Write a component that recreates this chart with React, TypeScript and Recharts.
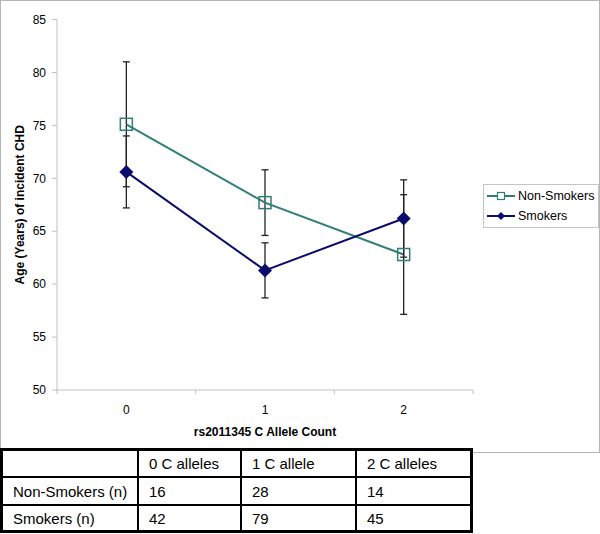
import { LineChart, Line, XAxis, YAxis, ErrorBar, Legend, Label } from 'recharts';

// allele count groups on the x axis
const alleleCounts = ['0', '1', '2'];
// mean age of incident CHD and error (years)
const nonSmokers = [75.1, 67.7, 62.8];
const nonSmokersErr = [5.9, 3.1, 5.65];
const smokers = [70.6, 61.3, 66.2];
const smokersErr = [3.4, 2.6, 3.65];
const yTicks = [50, 55, 60, 65, 70, 75, 80, 85];
const xTicks = [-0.5, 0, 0.5, 1, 1.5, 2, 2.5];

// sample sizes shown in the table below the chart
const tableHeader = ['', '0 C alleles', '1 C allele', '2 C alleles'];
const nonSmokersN = [16, 28, 14];
const smokersN = [42, 79, 45];

const FONT = '"Liberation Sans", Arial, sans-serif';
const TEAL = '#317d77';
const NAVY = '#0c0c6c';
const AXIS = '#c0c0c0';

const data = alleleCounts.map((_, i) => ({
  x: i,
  nonSmokers: nonSmokers[i],
  nonErr: nonSmokersErr[i],
  smokers: smokers[i],
  smkErr: smokersErr[i],
}));

const SquareDot = (p: any) => (
  <rect key={`sq-${p.index}`} x={p.cx - 6} y={p.cy - 6} width={12} height={12} fill="none" stroke={TEAL} strokeWidth={1.5} />
);

const DiamondDot = (p: any) => (
  <polygon
    key={`dm-${p.index}`}
    points={`${p.cx},${p.cy - 7} ${p.cx + 7},${p.cy} ${p.cx},${p.cy + 7} ${p.cx - 7},${p.cy}`}
    fill={NAVY}
  />
);

const AlleleTick = (props: any) => {
  const { x, y, payload } = props;
  const v = payload.value;
  if (Number.isInteger(v)) {
    return (
      <text x={x} y={y + 23.5} textAnchor="middle" fontSize={12} fontFamily={FONT} fill="#000">
        {alleleCounts[v]}
      </text>
    );
  }
  return <line x1={x} y1={y} x2={x} y2={y + 4} stroke={AXIS} />;
};

const renderLegend = (props: any) => {
  const { payload } = props;
  return (
    <div style={{ border: '1px solid #c4c4c4', background: '#fff', padding: '1px 4px 1px 3px', fontFamily: FONT, fontSize: 12.5 }}>
      {payload.map((entry: any) => (
        <div key={entry.value} style={{ display: 'flex', alignItems: 'center', height: 20 }}>
          <svg width={31} height={14} style={{ display: 'block' }}>
            <line x1={0} y1={7} x2={28} y2={7} stroke={entry.color} strokeWidth={2} />
            {entry.dataKey === 'nonSmokers' ? (
              <rect x={10.5} y={3.5} width={7} height={7} fill="#fff" stroke={TEAL} strokeWidth={1.2} />
            ) : (
              <polygon points="14,3 18,7 14,11 10,7" fill={NAVY} />
            )}
          </svg>
          <span>{entry.value}</span>
        </div>
      ))}
    </div>
  );
};

const cell = (col: number, row: number): React.CSSProperties => ({
  width: [136, 103, 115, 113][col],
  height: [27, 28, 24][row],
  boxSizing: 'border-box',
  padding: '0 0 0 10px',
  borderRight: col < 3 ? '2px solid #000' : 'none',
  borderBottom: row < 2 ? '2px solid #000' : 'none',
  verticalAlign: 'middle',
  textAlign: 'left',
  fontFamily: FONT,
  fontSize: 15,
  lineHeight: '15px',
  color: '#000',
  whiteSpace: 'nowrap',
});

export default function App() {
  const rows = [
    tableHeader,
    ['Non-Smokers (n)', ...nonSmokersN.map(String)],
    ['Smokers (n)', ...smokersN.map(String)],
  ];
  return (
    <div style={{ position: 'absolute', left: 0, top: 0, width: 600, height: 534, background: '#fff' }}>
      <div style={{ position: 'absolute', left: 0, top: 0 }}>
        <LineChart width={600} height={453} data={data} margin={{ top: 19.5, right: 127, bottom: 0, left: 0 }}>
          <XAxis
            dataKey="x"
            type="number"
            domain={[-0.5, 2.5]}
            ticks={xTicks}
            interval={0}
            tick={<AlleleTick />}
            tickLine={false}
            tickSize={0}
            tickMargin={0}
            height={63}
            axisLine={{ stroke: AXIS }}
          >
            <Label
              content={({ viewBox }: any) => (
                <text x={viewBox.x + viewBox.width / 2} y={viewBox.y + 46} textAnchor="middle" fontSize={12} fontWeight="bold" fontFamily={FONT} fill="#000">
                  rs2011345 C Allele Count
                </text>
              )}
            />
          </XAxis>
          <YAxis
            domain={[50, 85]}
            ticks={yTicks}
            interval={0}
            width={57}
            tickSize={5}
            tickMargin={6}
            axisLine={{ stroke: AXIS }}
            tickLine={{ stroke: AXIS }}
            tick={{ fill: '#000', fontSize: 12, fontFamily: FONT }}
          >
            <Label
              content={({ viewBox }: any) => {
                const cx = viewBox.x + 20;
                const cy = viewBox.y + viewBox.height / 2;
                return (
                  <text x={cx} y={cy} transform={`rotate(-90 ${cx} ${cy})`} textAnchor="middle" dominantBaseline="central" fontSize={12} fontWeight="bold" fontFamily={FONT} fill="#000">
                    Age (Years) of incident CHD
                  </text>
                );
              }}
            />
          </YAxis>
          <Legend
            layout="horizontal"
            align="center"
            verticalAlign="middle"
            content={renderLegend}
            wrapperStyle={{ left: 483, top: 184, width: 'auto' }}
          />
          <Line
            name="Non-Smokers"
            dataKey="nonSmokers"
            stroke={TEAL}
            strokeWidth={2}
            dot={SquareDot}
            activeDot={false}
            isAnimationActive={false}
          >
            <ErrorBar dataKey="nonErr" width={3.5} stroke="#222" strokeWidth={1.3} direction="y" />
          </Line>
          <Line
            name="Smokers"
            dataKey="smokers"
            stroke={NAVY}
            strokeWidth={2}
            dot={DiamondDot}
            activeDot={false}
            isAnimationActive={false}
          >
            <ErrorBar dataKey="smkErr" width={3.5} stroke="#222" strokeWidth={1.3} direction="y" />
          </Line>
        </LineChart>
      </div>
      <div
        style={{
          position: 'absolute',
          left: 0,
          top: 0,
          width: 600,
          height: 453,
          boxSizing: 'border-box',
          border: '1px solid #b5b5b5',
          pointerEvents: 'none',
        }}
      />
      <table
        style={{
          position: 'absolute',
          left: 0,
          top: 448,
          borderCollapse: 'separate',
          borderSpacing: 0,
          border: '3px solid #000',
          background: '#fff',
          tableLayout: 'fixed',
        }}
      >
        <tbody>
          {rows.map((r, ri) => (
            <tr key={ri}>
              {r.map((c, ci) => (
                <td key={ci} style={cell(ci, ri)}>
                  {c}
                </td>
              ))}
            </tr>
          ))}
        </tbody>
      </table>
    </div>
  );
}
